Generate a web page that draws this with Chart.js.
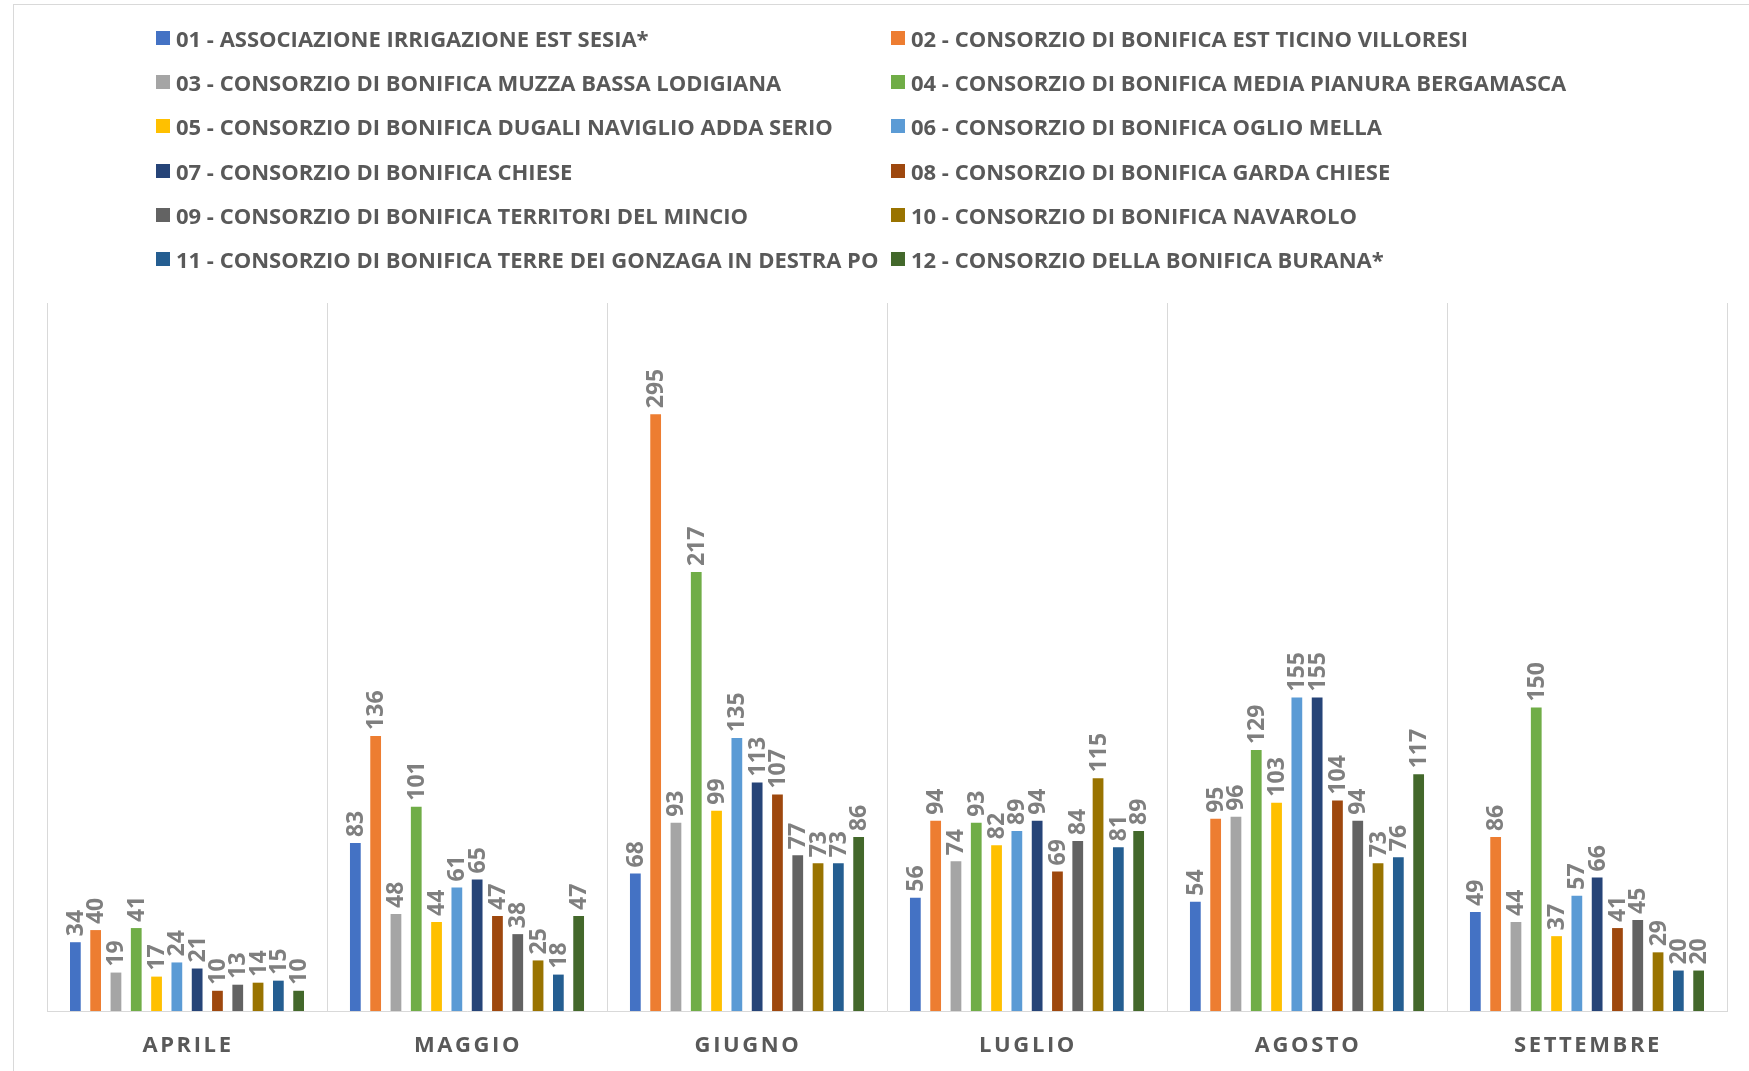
<!DOCTYPE html>
<html>
<head>
<meta charset="utf-8">
<script src="https://cdn.jsdelivr.net/npm/chart.js@4.4.1/dist/chart.umd.min.js"></script>
<style>
	html, body {
		margin: 0;
		padding: 0;
		background: #fff;
		overflow: hidden;
	}
	#wrap {
		position: relative;
		width: 1749px;
		height: 1071px;
	}
	#frame {
		position: absolute;
		left: 13px;
		top: 4px;
		width: 1740px;
		height: 1100px;
		border: 1px solid #d9d9d9;
		box-sizing: border-box;
	}
	#legend {
		position: absolute;
		left: 0;
		top: 0;
		width: 1749px;
		font-family: "Open Sans", sans-serif;
		font-weight: 700;
		font-size: 22px;
		color: #595959;
	}
	.item {
		position: absolute;
		white-space: nowrap;
		height: 28px;
		line-height: 28px;
	}
	.item span.box {
		position: absolute;
		left: 0;
		top: 7px;
		width: 14px;
		height: 14px;
	}
	.item span.txt {
		position: absolute;
		left: 20px;
		top: 0;
	}
</style>
</head>
<body>
<div id="wrap">
	<div id="frame"></div>
	<canvas id="chart"></canvas>
	<div id="legend"></div>
</div>
<script>
const categories = ['APRILE', 'MAGGIO', 'GIUGNO', 'LUGLIO', 'AGOSTO', 'SETTEMBRE'];

const seriesNames = [
	'01 - ASSOCIAZIONE IRRIGAZIONE EST SESIA*',
	'02 - CONSORZIO DI BONIFICA EST TICINO VILLORESI',
	'03 - CONSORZIO DI BONIFICA MUZZA BASSA LODIGIANA',
	'04 - CONSORZIO DI BONIFICA MEDIA PIANURA BERGAMASCA',
	'05 - CONSORZIO DI BONIFICA DUGALI NAVIGLIO ADDA SERIO',
	'06 - CONSORZIO DI BONIFICA OGLIO MELLA',
	'07 - CONSORZIO DI BONIFICA CHIESE',
	'08 - CONSORZIO DI BONIFICA GARDA CHIESE',
	'09 - CONSORZIO DI BONIFICA TERRITORI DEL MINCIO',
	'10 - CONSORZIO DI BONIFICA NAVAROLO',
	'11 - CONSORZIO DI BONIFICA TERRE DEI GONZAGA IN DESTRA PO',
	'12 - CONSORZIO DELLA BONIFICA BURANA*',
];

const seriesColors = [
	'#4472C4', '#ED7D31', '#A5A5A5', '#70AD47', '#FFC000', '#5B9BD5',
	'#264478', '#9E480E', '#636363', '#997300', '#255E91', '#43682B',
];

// one array per consorzio, months Apr..Sep
const s01 = [34, 83, 68, 56, 54, 49];
const s02 = [40, 136, 295, 94, 95, 86];
const s03 = [19, 48, 93, 74, 96, 44];
const s04 = [41, 101, 217, 93, 129, 150];
const s05 = [17, 44, 99, 82, 103, 37];
const s06 = [24, 61, 135, 89, 155, 57];
const s07 = [21, 65, 113, 94, 155, 66];
const s08 = [10, 47, 107, 69, 104, 41];
const s09 = [13, 38, 77, 84, 94, 45];
const s10 = [14, 25, 73, 115, 73, 29];
const s11 = [15, 18, 73, 81, 76, 20];
const s12 = [10, 47, 86, 89, 117, 20];

const seriesValues = [s01, s02, s03, s04, s05, s06, s07, s08, s09, s10, s11, s12];

const yMax = 350;

// values written vertically above each bar
const barLabels = {
	id: 'barLabels',
	afterDatasetsDraw(chart) {
		const ctx = chart.ctx;
		ctx.save();
		ctx.font = '700 23px "Open Sans", sans-serif';
		ctx.fillStyle = '#7f7f7f';
		ctx.textAlign = 'left';
		ctx.textBaseline = 'middle';
		chart.data.datasets.forEach((ds, i) => {
			chart.getDatasetMeta(i).data.forEach((bar, j) => {
				ctx.save();
				ctx.translate(bar.x + 1, bar.y - 6);
				ctx.rotate(-Math.PI / 2);
				ctx.fillText(String(ds.data[j]), 0, 0);
				ctx.restore();
			});
		});
		ctx.restore();
	},
};

// month names under the axis, spaced out
const monthLabels = {
	id: 'monthLabels',
	afterDraw(chart) {
		const ctx = chart.ctx;
		const x = chart.scales.x;
		ctx.save();
		ctx.font = '700 22px "Open Sans", sans-serif';
		ctx.fillStyle = '#595959';
		ctx.textAlign = 'center';
		ctx.textBaseline = 'middle';
		if ('letterSpacing' in ctx) {
			ctx.letterSpacing = '2.6px';
		}
		categories.forEach((c, i) => {
			ctx.fillText(c, x.getPixelForValue(i) + 1, 1046);
		});
		ctx.restore();
	},
};

const chart = new Chart(document.getElementById('chart'), {
	type: 'bar',
	data: {
		labels: categories,
		datasets: seriesValues.map((vals, i) => ({
			label: seriesNames[i],
			data: vals,
			backgroundColor: seriesColors[i],
			borderWidth: 0,
			categoryPercentage: 0.87,
			barPercentage: 0.53,
		})),
	},
	options: {
		responsive: true,
		maintainAspectRatio: false,
		animation: false,
		layout: {
			padding: { left: 47, right: 22, top: 303, bottom: 60 },
		},
		plugins: {
			legend: { display: false },
			tooltip: { enabled: false },
		},
		scales: {
			x: {
				grid: {
					color: '#d9d9d9',
					lineWidth: 1,
					drawTicks: false,
					offset: true,
				},
				border: { color: '#d9d9d9', width: 1 },
				ticks: { display: false },
			},
			y: {
				display: false,
				min: 0,
				max: yMax,
			},
		},
	},
	plugins: [barLabels, monthLabels],
});

// two-column legend built from the chart's own legend items
const legendEl = document.getElementById('legend');
const items = chart.options.plugins.legend.labels.generateLabels(chart);
items.forEach((it, i) => {
	const col = i % 2;
	const row = Math.floor(i / 2);
	const div = document.createElement('div');
	div.className = 'item';
	div.style.left = (col === 0 ? 156 : 891) + 'px';
	div.style.top = (24 + row * 44.2) + 'px';
	const box = document.createElement('span');
	box.className = 'box';
	box.style.background = it.fillStyle;
	const txt = document.createElement('span');
	txt.className = 'txt';
	txt.textContent = it.text;
	div.appendChild(box);
	div.appendChild(txt);
	legendEl.appendChild(div);
});
</script>
</body>
</html>
